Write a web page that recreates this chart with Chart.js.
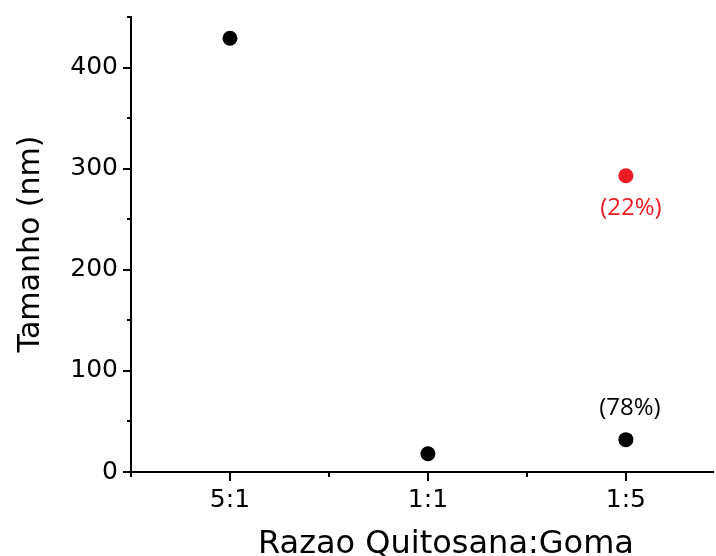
<!DOCTYPE html>
<html>
<head>
<meta charset="utf-8">
<script src="https://cdn.jsdelivr.net/npm/chart.js@4"></script>
<style>
  html, body { margin: 0; padding: 0; background: #fff; }
  canvas { display: block; }
</style>
</head>
<body>
<canvas id="sizeChart" width="716" height="556"></canvas>
<script>
// categories on the x axis (ratio chitosan:gum)
var categories = ['5:1', '1:1', '1:5'];
// main population size (nm) for each ratio
var mainSizes = [429, 18, 32];
// second population, only seen at 1:5
var secondIndex = 2;
var secondSize = 293;
// population share labels
var mainPctLabel = '(78%)';
var secondPctLabel = '(22%)';

var red = '#ED1C24';

// draws the axis tick marks (major/minor), axis titles and the % labels
var extras = {
    id: 'extras',
    afterDraw: function(chart) {
        var ctx = chart.ctx;
        var xs = chart.scales.x, ys = chart.scales.y;
        var area = chart.chartArea;
        ctx.save();
        ctx.strokeStyle = '#000';
        ctx.lineWidth = 2;
        ctx.beginPath();
        ys.ticks.forEach(function(t) {
            var py = Math.round(ys.getPixelForValue(t.value));
            var len = t.value % 100 === 0 ? 8 : 4;
            ctx.moveTo(area.left, py);
            ctx.lineTo(area.left - len, py);
        });
        xs.ticks.forEach(function(t) {
            var px = Math.round(xs.getPixelForValue(t.value));
            var len = Number.isInteger(t.value) ? 9 : 5;
            ctx.moveTo(px, area.bottom);
            ctx.lineTo(px, area.bottom + len);
        });
        ctx.stroke();

        // axis titles
        ctx.fillStyle = '#000';
        ctx.textAlign = 'center';
        ctx.textBaseline = 'alphabetic';
        ctx.font = '32px "DejaVu Sans"';
        ctx.fillText('Razao Quitosana:Goma', 446, 553);
        ctx.save();
        ctx.translate(39, 244);
        ctx.rotate(-Math.PI / 2);
        ctx.font = '30px "DejaVu Sans"';
        ctx.fillText('Tamanho (nm)', 0, 0);
        ctx.restore();

        // population labels next to the 1:5 points
        ctx.font = '24px "Open Sans"';
        ctx.textBaseline = 'middle';
        var p1 = chart.getDatasetMeta(0).data[secondIndex];
        ctx.fillStyle = '#000';
        ctx.fillText(mainPctLabel, p1.x + 4, p1.y - 31);
        var p2 = chart.getDatasetMeta(1).data[0];
        ctx.fillStyle = red;
        ctx.fillText(secondPctLabel, p2.x + 5, p2.y + 32);
        ctx.restore();
    }
};

var ctx = document.getElementById('sizeChart').getContext('2d');

new Chart(ctx, {
    type: 'scatter',
    data: {
        datasets: [{
            data: mainSizes.map(function(v, i) { return { x: i, y: v }; }),
            backgroundColor: '#000',
            borderWidth: 0,
            pointRadius: 7.5,
            pointHoverRadius: 7.5
        }, {
            data: [{ x: secondIndex, y: secondSize }],
            backgroundColor: red,
            borderWidth: 0,
            pointRadius: 7.5,
            pointHoverRadius: 7.5
        }]
    },
    options: {
        responsive: false,
        animation: false,
        devicePixelRatio: 1,
        layout: { autoPadding: false, padding: { top: 17, right: 3, left: 0, bottom: 0 } },
        plugins: {
            legend: { display: false },
            tooltip: { enabled: false }
        },
        scales: {
            x: {
                type: 'linear',
                min: -0.5,
                max: 2.44,
                grid: { display: false },
                border: { display: true, color: '#000', width: 2 },
                ticks: {
                    stepSize: 0.5,
                    includeBounds: false,
                    autoSkip: false,
                    maxRotation: 0,
                    padding: 5,
                    color: '#000',
                    font: { family: 'DejaVu Sans', size: 25 },
                    callback: function(v) {
                        return Number.isInteger(v) ? categories[v] : '';
                    }
                },
                afterFit: function(scale) {
                    scale.height = 84;
                    scale.paddingLeft = 0;
                    scale.paddingRight = 0;
                }
            },
            y: {
                min: 0,
                max: 450,
                grid: { display: false },
                border: { display: true, color: '#000', width: 2 },
                ticks: {
                    stepSize: 50,
                    includeBounds: false,
                    autoSkip: false,
                    padding: 5,
                    color: '#000',
                    font: { family: 'DejaVu Sans', size: 25 },
                    callback: function(v) {
                        return v % 100 === 0 ? v : '';
                    }
                },
                afterFit: function(scale) {
                    scale.width = 131;
                    scale.paddingTop = 0;
                    scale.paddingBottom = 0;
                }
            }
        }
    },
    plugins: [extras]
});
</script>
</body>
</html>
